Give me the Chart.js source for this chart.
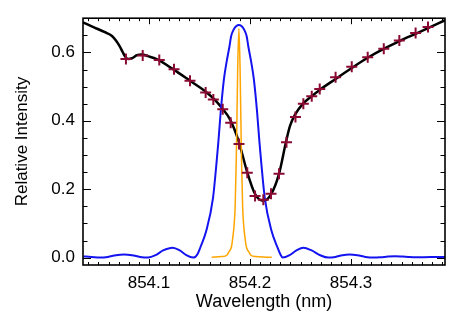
<!DOCTYPE html>
<html>
<head>
<meta charset="utf-8">
<script src="https://cdn.jsdelivr.net/npm/chart.js@4.4.1/dist/chart.umd.min.js"></script>
<style>
  html, body { margin: 0; padding: 0; background: #fff; }
</style>
</head>
<body>
<canvas id="perfilChart" width="458" height="327"></canvas>
<script>
// Perfil sintetico (linea negra)
const perfilWl = [854.0346, 854.0466, 854.0564, 854.0634, 854.0673, 854.0708, 854.0738, 854.0762,
  854.0792, 854.0832, 854.0881, 854.0931, 854.0990, 854.1076, 854.1238, 854.1406, 854.1571,
  854.1650, 854.1720, 854.1802, 854.1890, 854.1970, 854.2050, 854.2132, 854.2208, 854.2287,
  854.2356, 854.2396, 854.2446, 854.2525, 854.2611, 854.2693, 854.2851, 854.3010, 854.3168,
  854.3327, 854.3485, 854.3644, 854.3762, 854.3930];
const perfilI = [0.688, 0.672, 0.659, 0.648, 0.635, 0.619, 0.602, 0.589,
  0.581, 0.583, 0.592, 0.594, 0.589, 0.580, 0.551, 0.517, 0.483,
  0.462, 0.438, 0.404, 0.338, 0.252, 0.186, 0.166, 0.185, 0.245,
  0.338, 0.385, 0.418, 0.450, 0.472, 0.491, 0.523, 0.555, 0.585,
  0.611, 0.634, 0.655, 0.671, 0.694];

// Puntos observados (cruces)
const obsWl = [854.0772, 854.0938, 854.1102, 854.1248, 854.1406, 854.1561, 854.1637, 854.1730,
  854.1809, 854.1891, 854.1973, 854.2050, 854.2132, 854.2208, 854.2287, 854.2361, 854.2450,
  854.2528, 854.2611, 854.2690, 854.2847, 854.3007, 854.3165, 854.3324, 854.3478, 854.3639,
  854.3762];
const obsI = [0.581, 0.591, 0.578, 0.551, 0.517, 0.483, 0.462, 0.434,
  0.394, 0.332, 0.248, 0.180, 0.169, 0.187, 0.245, 0.337, 0.411,
  0.450, 0.472, 0.493, 0.527, 0.558, 0.586, 0.611, 0.635, 0.657,
  0.674];

// Transmision del filtro (azul)
const filtroWl = [854.0350, 854.0430, 854.0515, 854.0594, 854.0673, 854.0753, 854.0832, 854.0911,
  854.0990, 854.1065, 854.1140, 854.1235, 854.1305, 854.1370, 854.1439, 854.1480, 854.1510,
  854.1568, 854.1634, 854.1667, 854.1687, 854.1710, 854.1742, 854.1770, 854.1797, 854.1813,
  854.1837, 854.1865, 854.1890, 854.1915, 854.1943, 854.1967, 854.1983, 854.2010, 854.2038,
  854.2070, 854.2093, 854.2113, 854.2146, 854.2212, 854.2270, 854.2300, 854.2324, 854.2392,
  854.2460, 854.2528, 854.2610, 854.2695, 854.2775, 854.2845, 854.2915, 854.2983, 854.3063,
  854.3142, 854.3221, 854.3293, 854.3365, 854.3436, 854.3508, 854.3580, 854.3651, 854.3790,
  854.3930];
const filtroI = [0.0035, 0.002, 0.000, 0.002, 0.007, 0.009, 0.007, 0.002,
  0.000, 0.007, 0.021, 0.029, 0.021, 0.007, 0.000, 0.010, 0.031,
  0.079, 0.175, 0.272, 0.339, 0.426, 0.522, 0.575, 0.618, 0.647,
  0.666, 0.677, 0.680, 0.677, 0.666, 0.647, 0.618, 0.575, 0.522,
  0.426, 0.339, 0.272, 0.175, 0.079, 0.031, 0.010, 0.000, 0.007,
  0.021, 0.029, 0.021, 0.007, 0.000, 0.002, 0.007, 0.009, 0.007,
  0.002, 0.000, 0.001, 0.003, 0.004, 0.003, 0.0015, 0.001, 0.0015,
  0.0015];

// Perfil del laser (naranja)
const laserWl = [854.1620, 854.1720, 854.1770, 854.1790, 854.1816, 854.1826, 854.1853, 854.1865,
  854.1878, 854.1890, 854.1902, 854.1915, 854.1927, 854.1954, 854.1964, 854.1990, 854.2010,
  854.2060, 854.2215];
const laserI = [0.001, 0.003, 0.007, 0.016, 0.031, 0.050, 0.150, 0.300,
  0.550, 0.670, 0.550, 0.300, 0.150, 0.050, 0.031, 0.016, 0.007,
  0.003, 0.001];

const xTickValues = [854.1, 854.2, 854.3];
const xTickLabels = ["854.1", "854.2", "854.3"];
const yTickValues = [0.0, 0.2, 0.4, 0.6];
const yTickLabels = ["0.0", "0.2", "0.4", "0.6"];

const xMin = 854.0347, xMax = 854.393;
const yMin = -0.0216, yMax = 0.70;

function pares(xs, ys) {
  return xs.map((x, i) => ({ x: x, y: ys[i] }));
}

const fuente = { family: "'Liberation Sans', Arial, sans-serif", size: 17 };

// marco con ticks hacia adentro, como en IDL
const marcoPlugin = {
  id: "marco",
  afterDatasetsDraw(chart) {
    const { ctx, chartArea: a, scales: { x, y } } = chart;
    ctx.save();
    ctx.strokeStyle = "#000";
    ctx.lineWidth = 1;
    ctx.beginPath();
    for (let k = Math.ceil(xMin * 100); k <= Math.floor(xMax * 100); k++) {
      const px = Math.round(x.getPixelForValue(k / 100)) + 0.5;
      const len = (k % 10 === 0) ? 6 : 3;
      ctx.moveTo(px, a.bottom); ctx.lineTo(px, a.bottom - len);
      ctx.moveTo(px, a.top); ctx.lineTo(px, a.top + len);
    }
    for (let k = 0; k * 0.05 <= yMax; k++) {
      const py = Math.round(y.getPixelForValue(k * 0.05)) + 0.5;
      const len = (k % 4 === 0) ? 8 : 4.5;
      ctx.moveTo(a.left, py); ctx.lineTo(a.left + len, py);
      ctx.moveTo(a.right, py); ctx.lineTo(a.right - len, py);
    }
    ctx.stroke();
    ctx.lineWidth = 1.6;
    ctx.strokeRect(a.left, a.top, a.right - a.left, a.bottom - a.top);
    ctx.restore();
  }
};

const ctx = document.getElementById("perfilChart").getContext("2d");
const perfilChart = new Chart(ctx, {
  type: "scatter",
  data: {
    datasets: [
      {
        label: "Observado",
        data: pares(obsWl, obsI),
        showLine: false,
        pointStyle: "cross",
        pointRadius: 5.5,
        pointBorderWidth: 2,
        borderColor: "#8b0a32",
        backgroundColor: "#8b0a32"
      },
      {
        label: "Laser",
        data: pares(laserWl, laserI),
        showLine: true,
        pointRadius: 0,
        borderColor: "#ffa500",
        borderWidth: 1.5,
        cubicInterpolationMode: "monotone"
      },
      {
        label: "Filtro",
        data: pares(filtroWl, filtroI),
        showLine: true,
        pointRadius: 0,
        borderColor: "#1414f0",
        borderWidth: 2,
        cubicInterpolationMode: "monotone"
      },
      {
        label: "Sintetico",
        data: pares(perfilWl, perfilI),
        showLine: true,
        pointRadius: 0,
        borderColor: "#000",
        borderWidth: 2.5,
        cubicInterpolationMode: "monotone"
      }
    ]
  },
  options: {
    responsive: false,
    animation: false,
    devicePixelRatio: 1,
    layout: { padding: { top: 15, right: 13, left: 0, bottom: 0 } },
    plugins: { legend: { display: false }, tooltip: { enabled: false } },
    scales: {
      x: {
        type: "linear",
        min: xMin,
        max: xMax,
        afterBuildTicks: s => { s.ticks = xTickValues.map(v => ({ value: v })); },
        afterFit: s => { s.height = 62; },
        ticks: {
          callback: (v, i) => xTickLabels[i],
          autoSkip: false,
          maxRotation: 0,
          padding: 8,
          color: "#000",
          font: fuente
        },
        grid: { display: false, drawTicks: false },
        border: { display: false },
        title: { display: true, text: "Wavelength (nm)", color: "#000", font: { family: fuente.family, size: 18 }, padding: { top: 0, bottom: 14 } }
      },
      y: {
        type: "linear",
        min: yMin,
        max: yMax,
        afterBuildTicks: s => { s.ticks = yTickValues.map(v => ({ value: v })); },
        afterFit: s => { s.width = 83; },
        ticks: {
          callback: (v, i) => yTickLabels[i],
          autoSkip: false,
          padding: 8,
          color: "#000",
          font: fuente
        },
        grid: { display: false, drawTicks: false },
        border: { display: false },
        title: { display: true, text: "Relative Intensity", color: "#000", font: fuente, padding: { top: 12, bottom: 0 } }
      }
    }
  },
  plugins: [marcoPlugin]
});
</script>
</body>
</html>
